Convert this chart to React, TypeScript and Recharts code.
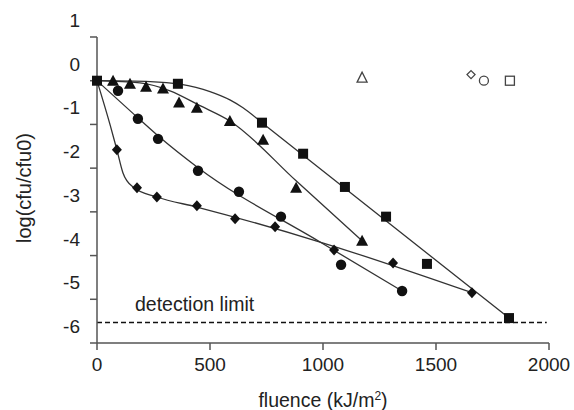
import React from "react";
import {
  ComposedChart,
  Line,
  Scatter,
  XAxis,
  YAxis,
  ReferenceLine,
  Label,
} from "recharts";

// measured points (fluence kJ/m2, log(cfu/cfu0))
const squareFluence = [0, 358, 730, 912, 1097, 1279, 1460, 1823];
const squareLog = [0, -0.07, -0.96, -1.67, -2.43, -3.11, -4.19, -5.43];

const triangleFluence = [71, 146, 217, 292, 363, 442, 588, 735, 881, 1173];
const triangleLog = [0, -0.07, -0.14, -0.18, -0.5, -0.62, -0.92, -1.35, -2.45, -3.66];

const circleFluence = [93, 181, 270, 447, 628, 814, 1080, 1350];
const circleLog = [-0.23, -0.87, -1.33, -2.06, -2.54, -3.11, -4.21, -4.81];

const diamondFluence = [88, 177, 265, 442, 611, 788, 1049, 1310, 1659];
const diamondLog = [-1.58, -2.45, -2.66, -2.86, -3.16, -3.34, -3.87, -4.17, -4.85];

// dark controls (open symbols)
const ctrlTriangle = [{ x: 1173, y: 0.07 }];
const ctrlDiamond = [{ x: 1655, y: 0.14 }];
const ctrlCircle = [{ x: 1712, y: 0 }];
const ctrlSquare = [{ x: 1827, y: 0 }];

// fitted curves
const squareFitX = [0, 235, 367, 500, 588, 646, 730, 1823];
const squareFitY = [0, -0.02, -0.08, -0.25, -0.44, -0.62, -0.96, -5.43];

const triangleFitX = [0, 190, 323, 456, 588, 881, 1173];
const triangleFitY = [0, -0.05, -0.23, -0.57, -0.92, -2.29, -3.66];

const circleFitX = [0, 181, 270, 447, 987, 1350];
const circleFitY = [0, -0.85, -1.26, -1.99, -3.69, -4.81];

const diamondFitX = [0, 58, 88, 115, 159, 265, 442, 987, 1659];
const diamondFitY = [0, -1.01, -1.58, -2.11, -2.43, -2.66, -2.89, -3.69, -4.85];

const detectionLimit = -5.53;
const xTicks = [0, 500, 1000, 1500, 2000];
const yTicks = [1, 0, -1, -2, -3, -4, -5, -6];

const zip = (xs: number[], ys: number[]) => xs.map((x, i) => ({ x, y: ys[i] }));

const FONT = "'Liberation Sans', Arial, sans-serif";
const INK = "#111";
const LINE = "#333";

const FilledSquare = (p: any) => (
  <rect x={p.cx - 5} y={p.cy - 5} width={10} height={10} fill={INK} />
);
const FilledTriangle = (p: any) => (
  <polygon
    points={`${p.cx},${p.cy - 6} ${p.cx - 6},${p.cy + 5} ${p.cx + 6},${p.cy + 5}`}
    fill={INK}
  />
);
const FilledCircle = (p: any) => <circle cx={p.cx} cy={p.cy} r={5.2} fill={INK} />;
const FilledDiamond = (p: any) => (
  <polygon
    points={`${p.cx},${p.cy - 5.5} ${p.cx + 5},${p.cy} ${p.cx},${p.cy + 5.5} ${p.cx - 5},${p.cy}`}
    fill={INK}
  />
);

const OpenSquare = (p: any) => (
  <rect x={p.cx - 4.5} y={p.cy - 4.5} width={9} height={9} fill="#fff" stroke="#444" strokeWidth={1.3} />
);
const OpenTriangle = (p: any) => (
  <polygon
    points={`${p.cx},${p.cy - 5.5} ${p.cx - 5},${p.cy + 4.5} ${p.cx + 5},${p.cy + 4.5}`}
    fill="#fff"
    stroke="#444"
    strokeWidth={1.3}
  />
);
const OpenCircle = (p: any) => (
  <circle cx={p.cx} cy={p.cy} r={4.5} fill="#fff" stroke="#444" strokeWidth={1.3} />
);
const OpenDiamond = (p: any) => (
  <polygon
    points={`${p.cx},${p.cy - 4} ${p.cx + 4},${p.cy} ${p.cx},${p.cy + 4} ${p.cx - 4},${p.cy}`}
    fill="#fff"
    stroke="#444"
    strokeWidth={1.3}
  />
);

const YTick = ({ x, y, payload }: any) => (
  <text
    x={x}
    y={y - 16.5}
    textAnchor="end"
    dominantBaseline="central"
    fontSize={19}
    fontFamily={FONT}
    fill="#222"
  >
    {payload.value}
  </text>
);

const XTick = ({ x, y, payload }: any) => (
  <text
    x={x}
    y={y}
    dy="0.71em"
    textAnchor="middle"
    fontSize={19}
    fontFamily={FONT}
    fill="#222"
  >
    {payload.value}
  </text>
);

export default function App() {
  const fits = [
    zip(squareFitX, squareFitY),
    zip(triangleFitX, triangleFitY),
    zip(circleFitX, circleFitY),
    zip(diamondFitX, diamondFitY),
  ];

  return (
    <div style={{ position: "absolute", left: 0, top: 0, width: 574, height: 410, background: "#fff" }}>
      <ComposedChart
        width={574}
        height={410}
        margin={{ top: 37, right: 25, bottom: 37, left: 37 }}
      >
        <XAxis
          type="number"
          dataKey="x"
          domain={[0, 2000]}
          ticks={xTicks}
          height={30}
          tickSize={7}
          tickMargin={8}
          tick={<XTick />}
          stroke="#555"
          axisLine={{ stroke: "#555", strokeWidth: 1.5 }}
          tickLine={{ stroke: "#555", strokeWidth: 1.5 }}
        >
          <Label
            content={(props: any) => {
              const vb = props.viewBox;
              return (
                <text
                  x={vb.x + vb.width / 2}
                  y={407}
                  textAnchor="middle"
                  fontSize={19.5}
                  fontFamily={FONT}
                  fill="#222"
                >
                  fluence (kJ/m
                  <tspan dy={-7} fontSize={12}>2</tspan>
                  <tspan dy={7}>)</tspan>
                </text>
              );
            }}
          />
        </XAxis>
        <YAxis
          type="number"
          dataKey="y"
          domain={[-6, 1]}
          ticks={yTicks}
          width={60}
          tickSize={7}
          tickMargin={10}
          tick={<YTick />}
          interval={0}
          allowDataOverflow
          axisLine={{ stroke: "#555", strokeWidth: 1.5 }}
          tickLine={{ stroke: "#555", strokeWidth: 1.5 }}
        >
          <Label
            content={() => (
              <text
                x={24}
                y={188}
                transform="rotate(-90 24 188)"
                textAnchor="middle"
                dominantBaseline="central"
                fontSize={20}
                fontFamily={FONT}
                fill="#222"
              >
                log(cfu/cfu0)
              </text>
            )}
          />
        </YAxis>

        <ReferenceLine
          segment={[
            { x: 0, y: detectionLimit },
            { x: 1990, y: detectionLimit },
          ]}
          stroke="#111"
          strokeWidth={1.5}
          strokeDasharray="5 3"
          ifOverflow="visible"
        >
          <Label
            content={() => (
              <text
                x={135}
                y={304}
                dominantBaseline="central"
                fontSize={19.5}
                fontFamily={FONT}
                fill="#222"
              >
                detection limit
              </text>
            )}
          />
        </ReferenceLine>

        {fits.map((d, i) => (
          <Line
            key={`fit-${i}`}
            data={d}
            dataKey="y"
            type="monotone"
            stroke={LINE}
            strokeWidth={1.3}
            dot={false}
            activeDot={false}
            isAnimationActive={false}
          />
        ))}

        <Scatter data={zip(diamondFluence, diamondLog)} dataKey="y" shape={FilledDiamond} isAnimationActive={false} />
        <Scatter data={zip(circleFluence, circleLog)} dataKey="y" shape={FilledCircle} isAnimationActive={false} />
        <Scatter data={zip(triangleFluence, triangleLog)} dataKey="y" shape={FilledTriangle} isAnimationActive={false} />
        <Scatter data={zip(squareFluence, squareLog)} dataKey="y" shape={FilledSquare} isAnimationActive={false} />

        <Scatter data={ctrlTriangle} dataKey="y" shape={OpenTriangle} isAnimationActive={false} />
        <Scatter data={ctrlDiamond} dataKey="y" shape={OpenDiamond} isAnimationActive={false} />
        <Scatter data={ctrlCircle} dataKey="y" shape={OpenCircle} isAnimationActive={false} />
        <Scatter data={ctrlSquare} dataKey="y" shape={OpenSquare} isAnimationActive={false} />
      </ComposedChart>
    </div>
  );
}
